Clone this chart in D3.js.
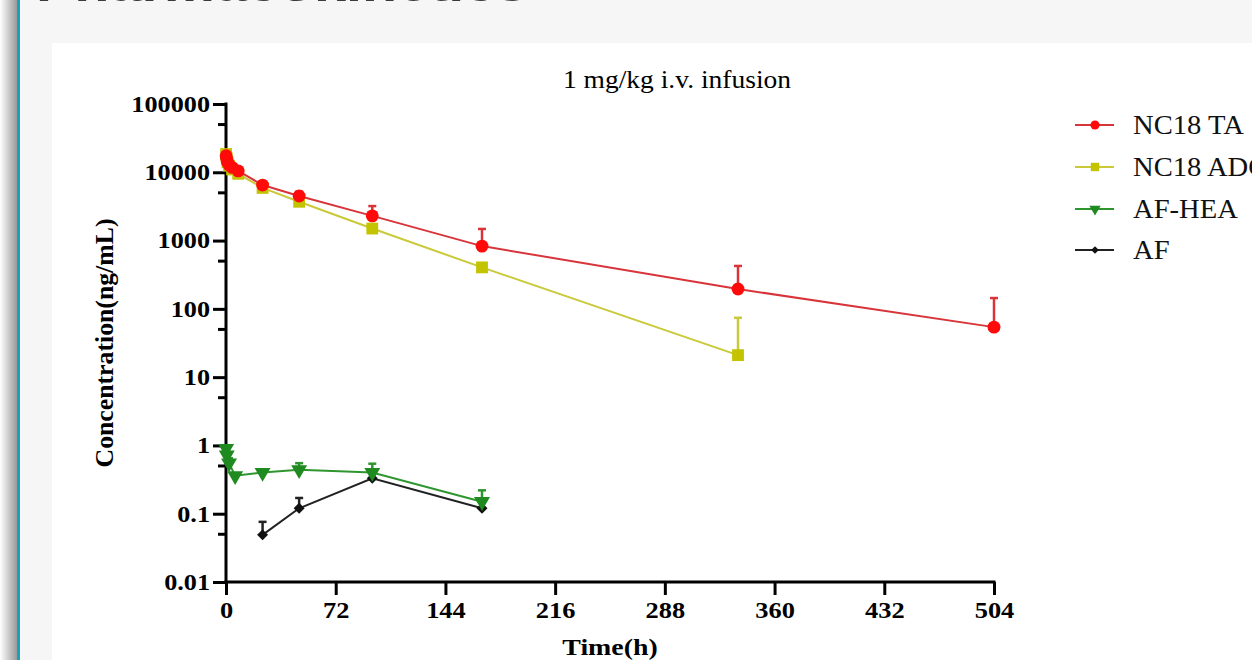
<!DOCTYPE html>
<html>
<head>
<meta charset="utf-8">
<script src="https://cdn.jsdelivr.net/npm/d3@7"></script>
<style>
  html, body { margin: 0; padding: 0; background: #f6f6f6; overflow: hidden; }
  svg { display: block; }
</style>
</head>
<body>
<div id="chart-area"></div>
<script>
// page size
let W = 1252, H = 660;

// plot frame inside the white panel
let plot = {left: 226, right: 994, top: 104, bottom: 582};

// data
let timesTA  = [0.083, 0.5, 1, 2, 4, 8, 24, 48, 96, 168, 336, 504];
let meanTA   = [17500, 15500, 14000, 12800, 11800, 10500, 6500, 4500, 2300, 830, 195, 54];
let errTA    = [1500, 1200, 1000, 900, 800, 700, 600, 700, 900, 650, 230, 90];

let timesADC = [0.083, 0.5, 1, 2, 4, 8, 24, 48, 96, 168, 336];
let meanADC  = [18500, 16000, 14000, 12500, 11000, 9500, 5900, 3700, 1500, 405, 21];
let errADC   = [0, 0, 0, 0, 0, 0, 0, 0, 0, 0, 53];

let timesHEA = [0.083, 0.5, 2, 6, 24, 48, 96, 168];
let meanHEA  = [0.9, 0.72, 0.55, 0.36, 0.40, 0.44, 0.40, 0.15];
let errHEA   = [0, 0.05, 0.1, 0, 0.03, 0.11, 0.14, 0.07];

let timesAF  = [24, 48, 96, 168];
let meanAF   = [0.049, 0.12, 0.33, 0.12];
let errAF    = [0.027, 0.05, 0, 0];

let seriesNames = ["NC18 TA", "NC18 ADC", "AF-HEA", "AF"];
let lineColors  = ["#d8353a", "#c9c93a", "#2f962f", "#222222"];
let markColors  = ["#ff0a0a", "#c3c300", "#1f8a1f", "#111111"];
let markShapes  = [d3.symbolCircle, d3.symbolSquare, d3.symbolTriangle, d3.symbolSquare];
let markRotate  = [0, 0, 180, 45];
let markSizes   = [130, 140, 110, 60];

let xTicks = [0, 72, 144, 216, 288, 360, 432, 504];
let yTicks = [0.01, 0.1, 1, 10, 100, 1000, 10000, 100000];
let yMinor = [0.05, 0.5, 5, 50, 500, 5000, 50000];

let series = [
  {times: timesTA, mean: meanTA, err: errTA},
  {times: timesADC, mean: meanADC, err: errADC},
  {times: timesHEA, mean: meanHEA, err: errHEA},
  {times: timesAF, mean: meanAF, err: errAF}
];

let serif = "'Liberation Serif', 'Times New Roman', serif";

// the source picture is a bit wider than a normal Times setting
function stretch(sel, k) {
  sel.each(function() {
    let len = this.getComputedTextLength();
    d3.select(this).attr("textLength", len * k).attr("lengthAdjust", "spacingAndGlyphs");
  });
}

let svg = d3.select("#chart-area").append("svg")
  .attr("width", W)
  .attr("height", H);

// page decoration: shadow, blue rule, grey page, white panel
let grad = svg.append("defs").append("linearGradient")
  .attr("id", "shadow").attr("x1", 0).attr("x2", 1);
grad.append("stop").attr("offset", 0).attr("stop-color", "#ffffff");
grad.append("stop").attr("offset", 1).attr("stop-color", "#9a9a9a");
svg.append("rect").attr("x", 0).attr("y", 0).attr("width", 17).attr("height", H).attr("fill", "url(#shadow)");
svg.append("rect").attr("x", 17).attr("y", 0).attr("width", 3).attr("height", H).attr("fill", "#16a2b8");
svg.append("rect").attr("x", 20).attr("y", 0).attr("width", W - 20).attr("height", H).attr("fill", "#f6f6f6");
svg.append("rect").attr("x", 52).attr("y", 43).attr("width", W - 52).attr("height", H - 43).attr("fill", "#ffffff");

// cut-off page heading (only its lower edge shows in the slide)
svg.append("text")
  .attr("x", 36).attr("y", 1)
  .attr("font-family", "'Liberation Sans', Arial, sans-serif")
  .attr("font-size", 50).attr("font-weight", "bold")
  .attr("fill", "#3a3a3a")
  .text("Pharmacokinetics")
  .call(stretch, 1.15);

// scales
let x = d3.scaleLinear().domain([0, 504]).range([plot.left, plot.right]);
let y = d3.scaleLog().domain([0.01, 100000]).range([plot.bottom, plot.top]);

let g = svg.append("g");

// axes
let xAxis = d3.axisBottom(x).tickValues(xTicks).tickSize(13).tickSizeOuter(0).tickPadding(6);
let yAxis = d3.axisLeft(y).tickValues(yTicks).tickSize(13).tickSizeOuter(0).tickPadding(3)
  .tickFormat(d => d >= 1 ? d3.format("d")(d) : String(d));

g.append("g")
  .attr("transform", "translate(0," + plot.bottom + ")")
  .call(xAxis)
  .call(a => a.select(".domain").attr("stroke-width", 3).attr("d", "M" + (plot.left - 1.5) + ",0H" + (plot.right + 1.5)))
  .call(a => a.selectAll(".tick line").attr("stroke-width", 3))
  .call(a => a.selectAll(".tick text").attr("font-family", serif).attr("font-size", 24)
    .attr("font-weight", "bold").attr("fill", "#000").call(stretch, 1.1));

g.append("g")
  .attr("transform", "translate(" + plot.left + ",0)")
  .call(yAxis)
  .call(a => a.select(".domain").attr("stroke-width", 3).attr("d", "M0," + (plot.top - 1.5) + "V" + (plot.bottom + 1.5)))
  .call(a => a.selectAll(".tick line").attr("stroke-width", 3))
  .call(a => a.selectAll(".tick text").attr("font-family", serif).attr("font-size", 23)
    .attr("font-weight", "bold").attr("fill", "#000").call(stretch, 1.14));

// minor ticks on y
g.append("g").selectAll("line")
  .data(yMinor)
  .join("line")
  .attr("x1", plot.left - 8).attr("x2", plot.left)
  .attr("y1", d => y(d)).attr("y2", d => y(d))
  .attr("stroke", "#000").attr("stroke-width", 3);

// axis titles
g.append("text")
  .attr("x", 610).attr("y", 655)
  .attr("text-anchor", "middle")
  .attr("font-family", serif).attr("font-size", 24).attr("font-weight", "bold")
  .text("Time(h)")
  .call(stretch, 1.16);

g.append("text")
  .attr("transform", "translate(113," + ((plot.top + plot.bottom) / 2) + ") rotate(-90)")
  .attr("text-anchor", "middle")
  .attr("font-family", serif).attr("font-size", 25).attr("font-weight", "bold")
  .text("Concentration(ng/mL)")
  .call(stretch, 1.03);

g.append("text")
  .attr("x", 677).attr("y", 88)
  .attr("text-anchor", "middle")
  .attr("font-family", serif).attr("font-size", 25)
  .text("1 mg/kg i.v. infusion")
  .call(stretch, 1.1);

// series, drawn last first so NC18 TA sits on top
let line = d3.line().x(d => x(d.t)).y(d => y(d.v));

d3.range(series.length).reverse().forEach(i => {
  let s = series[i];
  let pts = s.times.map((t, k) => ({t: t, v: s.mean[k], e: s.err[k]}));
  let sg = g.append("g");

  // upper error bars
  let eb = sg.selectAll(".err").data(pts.filter(d => d.e > 0)).join("g");
  eb.append("line")
    .attr("x1", d => x(d.t)).attr("x2", d => x(d.t))
    .attr("y1", d => y(d.v)).attr("y2", d => y(d.v + d.e))
    .attr("stroke", lineColors[i]).attr("stroke-width", 2.5);
  eb.append("line")
    .attr("x1", d => x(d.t) - 4).attr("x2", d => x(d.t) + 4)
    .attr("y1", d => y(d.v + d.e)).attr("y2", d => y(d.v + d.e))
    .attr("stroke", lineColors[i]).attr("stroke-width", 2.5);

  sg.append("path")
    .datum(pts)
    .attr("fill", "none")
    .attr("stroke", lineColors[i])
    .attr("stroke-width", 2)
    .attr("d", line);

  sg.selectAll(".mark").data(pts).join("path")
    .attr("transform", d => "translate(" + x(d.t) + "," + y(d.v) + ") rotate(" + markRotate[i] + ")")
    .attr("d", d3.symbol().type(markShapes[i]).size(markSizes[i]))
    .attr("fill", markColors[i]);
});

// legend
let legend = g.append("g");
let rowY = [125, 167, 209, 250];
seriesNames.forEach((name, i) => {
  let row = legend.append("g").attr("transform", "translate(0," + rowY[i] + ")");
  row.append("line")
    .attr("x1", 1075).attr("x2", 1114)
    .attr("stroke", lineColors[i]).attr("stroke-width", 2);
  row.append("path")
    .attr("transform", "translate(1095,0) rotate(" + markRotate[i] + ")")
    .attr("d", d3.symbol().type(markShapes[i]).size(markSizes[i] * 0.5))
    .attr("fill", markColors[i]);
  row.append("text")
    .attr("x", 1133).attr("y", 9)
    .attr("font-family", serif).attr("font-size", 27)
    .attr("fill", "#111")
    .text(name)
    .call(stretch, 1.06);
});
</script>
</body>
</html>
